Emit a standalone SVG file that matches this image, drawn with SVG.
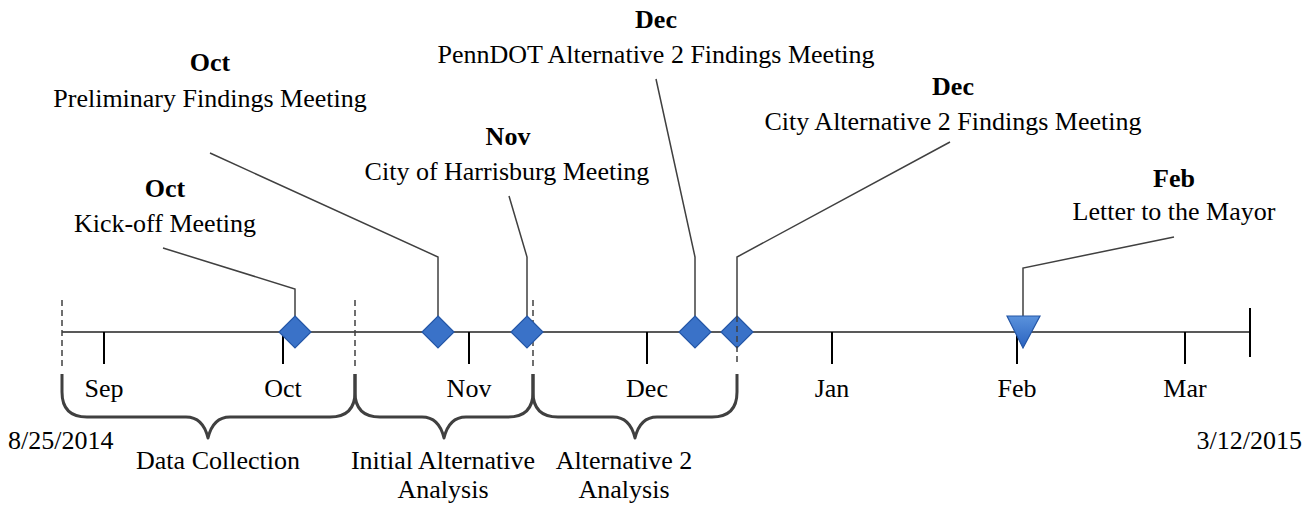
<svg xmlns="http://www.w3.org/2000/svg" width="1312" height="506" viewBox="0 0 1312 506">
<defs>
<style>
text{font-family:"Liberation Serif","Times New Roman",serif;font-size:26px;fill:#000;text-anchor:middle}
.b{font-weight:bold}
.l{text-anchor:start}
.r{text-anchor:end}
.axis{stroke:#595959;stroke-width:2;fill:none}
.tick{stroke:#000;stroke-width:2;fill:none}
.dash{stroke:#404040;stroke-width:1.5;stroke-dasharray:6,4;fill:none}
.brace{stroke:#404040;stroke-width:3;fill:none;stroke-linejoin:round}
.conn{stroke:#404040;stroke-width:1.5;fill:none}
.dia{fill:#3A72C8;stroke:#2456A6;stroke-width:1.2}
</style>
<linearGradient id="tg" x1="0" y1="0" x2="0" y2="1">
<stop offset="0" stop-color="#5A92DC"/>
<stop offset="1" stop-color="#2A62C0"/>
</linearGradient>
</defs>
<rect width="1312" height="506" fill="#fff"/>

<g id="axis">
<line class="axis" x1="62" y1="332" x2="1250" y2="332"/>
<line class="dash" x1="62" y1="300" x2="62" y2="366"/>
<line class="tick" x1="1250" y1="308" x2="1250" y2="357"/>
<line class="tick" x1="104" y1="332" x2="104" y2="364"/>
<line class="tick" x1="283" y1="332" x2="283" y2="364"/>
<line class="tick" x1="469" y1="332" x2="469" y2="364"/>
<line class="tick" x1="647" y1="332" x2="647" y2="364"/>
<line class="tick" x1="832" y1="332" x2="832" y2="364"/>
<line class="tick" x1="1017" y1="332" x2="1017" y2="364"/>
<line class="tick" x1="1185" y1="332" x2="1185" y2="364"/>
<text x="104" y="397">Sep</text>
<text x="283" y="397">Oct</text>
<text x="469" y="397">Nov</text>
<text x="647" y="397">Dec</text>
<text x="832" y="397">Jan</text>
<text x="1017" y="397">Feb</text>
<text x="1185" y="397">Mar</text>
<text class="l" x="8" y="449">8/25/2014</text>
<text class="r" x="1302" y="449">3/12/2015</text>
</g>

<g id="connectors">
<polyline class="conn" points="163,248 295,289 295,316"/>
<polyline class="conn" points="210,153 438,257 438,316"/>
<polyline class="conn" points="509,196 527,257 527,316"/>
<polyline class="conn" points="656,79 695,257 695,316"/>
<polyline class="conn" points="950,142 737,257 737,316"/>
<polyline class="conn" points="1174,237 1023,268 1023,316"/>
</g>

<g id="phase-data-collection">
<path class="brace" d="M62,374 L62,392 Q62,417 87,417 L186,417 Q203,417 208,438 Q213,417 230,417 L330,417 Q355,417 355,392 L355,374"/>
<text x="218" y="469">Data Collection</text>
</g>
<g id="phase-initial-alternative">
<line class="dash" x1="355" y1="300" x2="355" y2="366"/>
<path class="brace" d="M355,374 L355,392 Q355,417 380,417 L422,417 Q439,417 444,438 Q449,417 466,417 L508,417 Q533,417 533,392 L533,374"/>
<text x="443" y="469">Initial Alternative</text>
<text x="443" y="498">Analysis</text>
</g>
<g id="phase-alternative-2">
<line class="dash" x1="533" y1="300" x2="533" y2="366"/>
<path class="brace" d="M533,374 L533,392 Q533,417 558,417 L613,417 Q630,417 635,438 Q640,417 657,417 L712,417 Q737,417 737,392 L737,374"/>
<text x="624" y="469">Alternative 2</text>
<text x="624" y="498">Analysis</text>
</g>

<g id="m-kickoff">
<polygon class="dia" points="295,316 311,332 295,348 279,332"/>
<text class="b" x="165" y="197">Oct</text>
<text x="165" y="232">Kick-off Meeting</text>
</g>
<g id="m-preliminary">
<polygon class="dia" points="438,316 454,332 438,348 422,332"/>
<text class="b" x="210" y="71">Oct</text>
<text x="210" y="107">Preliminary Findings Meeting</text>
</g>
<g id="m-harrisburg">
<polygon class="dia" points="527,316 543,332 527,348 511,332"/>
<text class="b" x="508" y="145">Nov</text>
<text x="507" y="180">City of Harrisburg Meeting</text>
</g>
<g id="m-penndot">
<polygon class="dia" points="695,316 711,332 695,348 679,332"/>
<text class="b" x="656" y="28">Dec</text>
<text x="656" y="63">PennDOT Alternative 2 Findings Meeting</text>
</g>
<g id="m-city-alt2">
<polygon class="dia" points="737,316 753,332 737,348 721,332"/>
<line class="dash" x1="737" y1="316" x2="737" y2="366"/>
<text class="b" x="953" y="95">Dec</text>
<text x="953" y="130">City Alternative 2 Findings Meeting</text>
</g>
<g id="m-letter">
<polygon points="1007,316 1040,316 1023,348" fill="url(#tg)" stroke="#2456A6" stroke-width="1.2"/>
<text class="b" x="1174" y="187">Feb</text>
<text x="1174" y="220">Letter to the Mayor</text>
</g>
</svg>
